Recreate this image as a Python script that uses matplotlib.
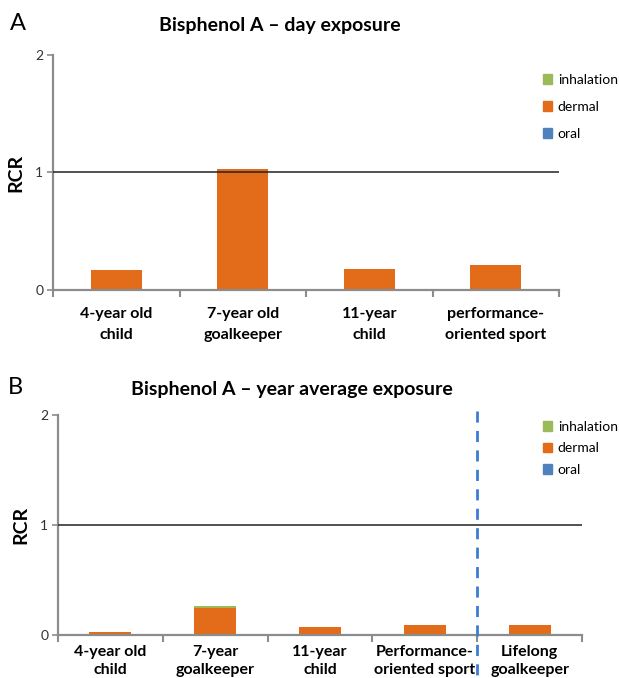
import numpy as np
import matplotlib.pyplot as plt
from matplotlib.patches import Patch
import matplotlib.transforms as mtransforms

plt.rcParams['font.family'] = ['Lato', 'DejaVu Sans']

# ============================================================
# DATA (RCR per exposure route)
# ============================================================
day_groups = ['4-year old\nchild', '7-year old\ngoalkeeper', '11-year\nchild',
              'performance-\noriented sport']
day_oral = [0.0, 0.0, 0.0, 0.0]
day_dermal = [0.17, 1.03, 0.18, 0.21]
day_inhal = [0.0, 0.0, 0.0, 0.0]

year_groups = ['4-year old\nchild', '7-year\ngoalkeeper', '11-year\nchild',
               'Performance-\noriented sport', 'Lifelong\ngoalkeeper']
year_oral = [0.0, 0.0, 0.0, 0.0, 0.0]
year_dermal = [0.025, 0.25, 0.075, 0.093, 0.093]
year_inhal = [0.0, 0.013, 0.0, 0.0, 0.0]

c_inhal = '#9bbb59'
c_dermal = '#e36c1b'
c_oral = '#4f81bd'
axis_gray = '#8c8c8c'

W, H = 619, 678
fig = plt.figure(figsize=(W / 100, H / 100), dpi=100)


def px_axes(x0, x1, ytop, ybot):
    return fig.add_axes([x0 / W, 1 - ybot / H, (x1 - x0) / W, (ybot - ytop) / H])


def draw_panel(ax, groups, oral, dermal, inhal, pad, spacing):
    n = len(groups)
    x = np.arange(n)
    oral = np.array(oral)
    dermal = np.array(dermal)
    inhal = np.array(inhal)
    ax.bar(x, oral, width=0.4, color=c_oral)
    ax.bar(x, dermal, width=0.4, bottom=oral, color=c_dermal)
    ax.bar(x, inhal, width=0.4, bottom=oral + dermal, color=c_inhal)
    ax.axhline(1, color='#222222', lw=1.1, zorder=3)
    ax.set_xlim(-0.5, n - 0.5)
    ax.set_ylim(0, 2)
    ax.set_yticks([0, 1, 2])
    ax.tick_params(axis='y', direction='out', length=4, width=1.2,
                   color=axis_gray, labelsize=10, labelcolor='#333333', pad=3)
    ax.set_xticks(np.arange(n + 1) - 0.5)
    ax.set_xticklabels([])
    ax.tick_params(axis='x', which='major', direction='out', length=5,
                   width=1.5, color=axis_gray)
    ax.set_xticks(x, minor=True)
    ax.set_xticklabels(groups, minor=True, fontsize=11.5, fontweight='bold',
                       linespacing=spacing)
    ax.tick_params(axis='x', which='minor', length=0, pad=pad)
    for s in ['top', 'right']:
        ax.spines[s].set_visible(False)
    for s in ['left', 'bottom']:
        ax.spines[s].set_color(axis_gray)
        ax.spines[s].set_linewidth(1.6)
    ax.set_ylabel('RCR', fontsize=14, fontweight='bold', labelpad=8)


handles = [Patch(color=c_inhal, label='inhalation'),
           Patch(color=c_dermal, label='dermal'),
           Patch(color=c_oral, label='oral')]

# Panel A
axA = px_axes(53, 559, 55, 290)
draw_panel(axA, day_groups, day_oral, day_dermal, day_inhal, 12, 1.65)
fig.text(10 / W, 1 - 24 / H, 'A', fontsize=17, va='center', ha='left')
fig.text(280 / W, 1 - 26 / H, 'Bisphenol A – day exposure', fontsize=14,
         fontweight='bold', ha='center', va='center')
fig.legend(handles=handles, loc='upper left', bbox_to_anchor=(530 / W, 1 - 61 / H),
           frameon=False, fontsize=10, handlelength=0.7, handleheight=0.7,
           handletextpad=0.4, labelspacing=1.1)

# Panel B
axB = px_axes(58, 582, 415, 635)
draw_panel(axB, year_groups, year_oral, year_dermal, year_inhal, 7, 1.35)
trans = mtransforms.blended_transform_factory(axB.transData, axB.transAxes)
axB.plot([3.5, 3.5], [1.02, -0.25], transform=trans, color='#3b7dd0', lw=2,
         dashes=(4, 3), clip_on=False, zorder=4)
fig.text(8 / W, 1 - 388 / H, 'B', fontsize=17, va='center', ha='left')
fig.text(292 / W, 1 - 390 / H, 'Bisphenol A – year average exposure', fontsize=14,
         fontweight='bold', ha='center', va='center')
fig.legend(handles=handles, loc='upper left', bbox_to_anchor=(530 / W, 1 - 408 / H),
           frameon=False, fontsize=10, handlelength=0.7, handleheight=0.7,
           handletextpad=0.4, labelspacing=0.7)

fig.savefig('out.png', dpi=100)
plt.close(fig)
